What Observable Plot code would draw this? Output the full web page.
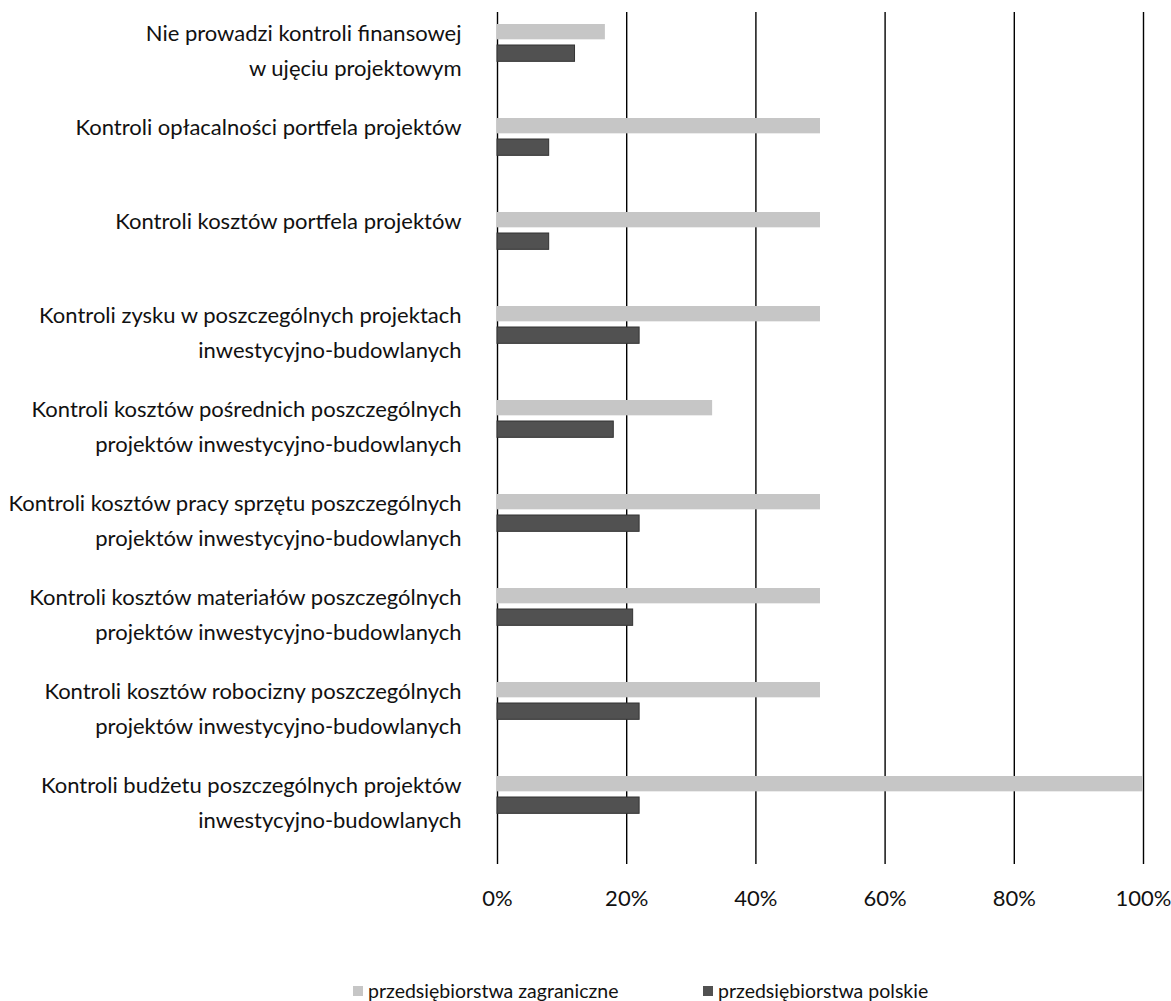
<!DOCTYPE html>
<html><head><meta charset="utf-8">
<script src="https://cdn.jsdelivr.net/npm/d3@7"></script>
<script src="https://cdn.jsdelivr.net/npm/@observablehq/plot@0.6"></script>
<style>
body{margin:0;background:#fff;font-family:Lato,sans-serif;}
#wrap{position:relative;width:1171px;height:1001px;overflow:hidden;}
.legend{position:absolute;top:979px;font-size:19.5px;display:flex;align-items:center;color:#111;white-space:nowrap;}
.sw{width:10px;height:10px;margin-right:5px;display:inline-block;}
</style></head><body><div id="wrap"></div>
<script>
const categories = [
  "Nie prowadzi kontroli finansowej\nw ujęciu projektowym",
  "Kontroli opłacalności portfela projektów",
  "Kontroli kosztów portfela projektów",
  "Kontroli zysku w poszczególnych projektach\ninwestycyjno-budowlanych",
  "Kontroli kosztów pośrednich poszczególnych\nprojektów inwestycyjno-budowlanych",
  "Kontroli kosztów pracy sprzętu poszczególnych\nprojektów inwestycyjno-budowlanych",
  "Kontroli kosztów materiałów poszczególnych\nprojektów inwestycyjno-budowlanych",
  "Kontroli kosztów robocizny poszczególnych\nprojektów inwestycyjno-budowlanych",
  "Kontroli budżetu poszczególnych projektów\ninwestycyjno-budowlanych"
];
const seriesNames = ["przedsiębiorstwa zagraniczne", "przedsiębiorstwa polskie"];
const foreign = [16.7, 50, 50, 50, 33.3, 50, 50, 50, 100];
const polish = [12, 8, 8, 22, 18, 22, 21, 22, 22];
const xTicks = [0, 20, 40, 60, 80, 100];
const colors = ["#c6c6c6", "#515151"];

const W = 1171, H = 920, mT = 12, mB = 56, mL = 497, mR = 28;
const step = (H - mT - mB) / categories.length;

const foreignRows = categories.map((c, i) => ({category: c, value: foreign[i], series: seriesNames[0]}));
const polishRows = categories.map((c, i) => ({category: c, value: polish[i], series: seriesNames[1]}));

const chart = Plot.plot({
  width: W, height: H,
  marginTop: mT, marginBottom: mB, marginLeft: mL, marginRight: mR,
  style: {fontFamily: "Lato, sans-serif", fontSize: "22px", color: "#111", background: "#fff", overflow: "visible"},
  x: {domain: [0, 100], label: null},
  y: {domain: categories, padding: 0, axis: null},
  marks: [
    Plot.gridX(xTicks, {stroke: "#000", strokeOpacity: 1, strokeWidth: 1.4}),
    Plot.barX(foreignRows, {x: "value", y: "category", fill: colors[0], insetTop: 9, insetBottom: step - 25}),
    Plot.barX(polishRows, {x: "value", y: "category", fill: colors[1], stroke: "#333", strokeWidth: 1, insetTop: 30, insetBottom: step - 47}),
    Plot.axisX(xTicks, {tickSize: 0, tickPadding: 26, tickFormat: d => d + "%", fontSize: 22, label: null}),
    Plot.text(categories, {y: d => d, text: d => d, frameAnchor: "left", textAnchor: "end", dx: -36, lineAnchor: "top", dy: -46, lineHeight: 1.59, fontSize: 22, fill: "#111"})
  ]
});
const wrap = document.getElementById("wrap");
wrap.appendChild(chart);

const legendPos = [353, 703];
seriesNames.forEach((name, i) => {
  const d = document.createElement("div");
  d.className = "legend";
  d.style.left = legendPos[i] + "px";
  const sw = document.createElement("span");
  sw.className = "sw";
  sw.style.background = colors[i];
  d.appendChild(sw);
  d.appendChild(document.createTextNode(name));
  wrap.appendChild(d);
});
</script>
</body></html>
